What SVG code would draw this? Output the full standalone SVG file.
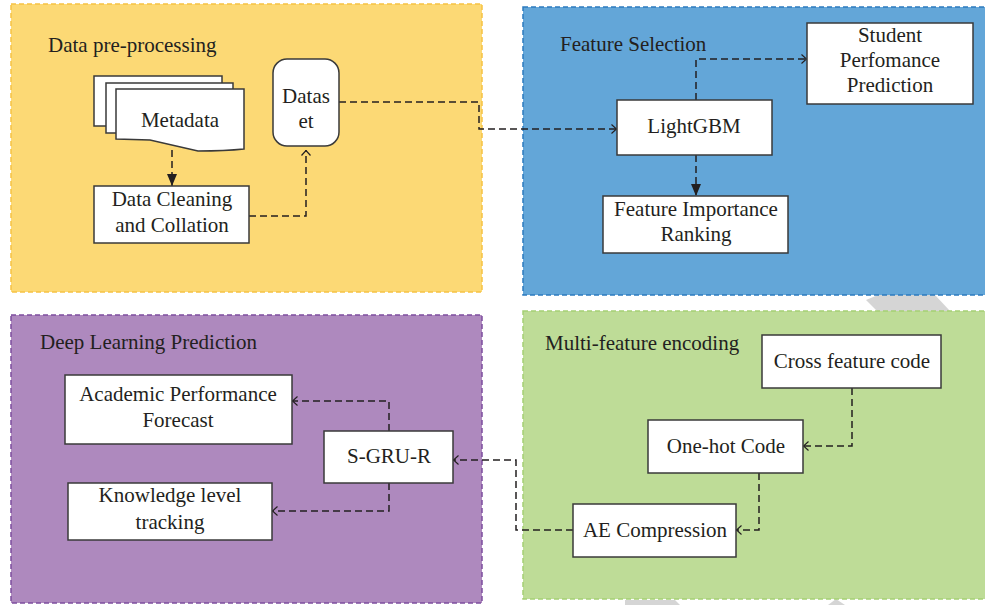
<svg xmlns="http://www.w3.org/2000/svg" width="985" height="605" viewBox="0 0 985 605">
<defs>
<style>
text{font-family:"Liberation Serif","Times New Roman",serif;font-size:21px;fill:#231f20}
.t{text-anchor:middle}
.box{fill:#fff;stroke:#3a3a3a;stroke-width:1.5}
.con{fill:none;stroke:#231f20;stroke-width:1.5;stroke-dasharray:7 4}
.panel{stroke-width:1.5;stroke-dasharray:5 3}
.wm{fill:#d5d5d5}
</style>
<marker id="fill" viewBox="0 0 12 10" refX="12" refY="5" markerWidth="12" markerHeight="10" markerUnits="userSpaceOnUse" orient="auto">
<path d="M0,0 L12,5 L0,10 Z" fill="#231f20"/>
</marker>
<marker id="open" viewBox="0 0 6 10" refX="6" refY="5" markerWidth="6" markerHeight="10" markerUnits="userSpaceOnUse" orient="auto">
<path d="M0.5,0.5 L5.5,5 L0.5,9.5" fill="none" stroke="#231f20" stroke-width="1.2"/>
</marker>
</defs>
<rect width="985" height="605" fill="#fff"/>
<g id="watermark">
<polygon class="wm" points="878,295 935,295 950,311 877,311 866,300"/>
<polygon class="wm" points="625,600 675,600 680,605 625,605"/>
<polygon class="wm" points="828,605 836,599 845,605"/>
</g>
<g id="panel-preprocessing">
<rect class="panel" x="11" y="4" width="471" height="288" fill="#fcd975" stroke="#f6c243"/>
<text x="48" y="52">Data pre-processing</text>
</g>
<g id="panel-feature-selection">
<rect class="panel" x="523" y="7" width="470" height="288" fill="#63a6d8" stroke="#2c7bbf"/>
<text x="560" y="51">Feature Selection</text>
</g>
<g id="panel-deep-learning">
<rect class="panel" x="11" y="315" width="471" height="288" fill="#ae89be" stroke="#7d4e9e"/>
<text x="40" y="349">Deep Learning Prediction</text>
</g>
<g id="panel-multi-feature">
<rect class="panel" x="523" y="311" width="470" height="288" fill="#bedc97" stroke="#a5cf74"/>
<text x="545" y="350">Multi-feature encoding</text>
</g>
<g id="connectors">
<path class="con" d="M172,150 V186" marker-end="url(#fill)"/>
<path class="con" d="M249,216 H306 V150" marker-end="url(#open)"/>
<path class="con" d="M339,102 H479 V129 H617" marker-end="url(#open)"/>
<path class="con" d="M696,100 V59 H807" marker-end="url(#open)"/>
<path class="con" d="M696,155 V196" marker-end="url(#fill)"/>
<path class="con" d="M852,388 V446 H803" marker-end="url(#open)"/>
<path class="con" d="M759,473 V530 H736" marker-end="url(#open)"/>
<path class="con" d="M573,530 H516 V460 H453" marker-end="url(#open)"/>
<path class="con" d="M389,431 V401 H292" marker-end="url(#open)"/>
<path class="con" d="M389,483 V511 H272" marker-end="url(#open)"/>
</g>
<g id="metadata">
<rect class="box" x="94" y="76" width="128" height="50"/>
<rect class="box" x="106" y="83" width="127" height="50"/>
<path class="box" d="M116,89 H244 V149 Q225,151 198,151 Q172,145 150,140 L116,139 Z"/>
<text class="t" x="180" y="127">Metadata</text>
</g>
<g id="data-cleaning">
<rect class="box" x="94" y="186" width="155" height="57"/>
<text class="t" x="172" y="206">Data Cleaning</text>
<text class="t" x="172" y="232">and Collation</text>
</g>
<g id="dataset">
<rect class="box" x="273" y="59" width="66" height="87" rx="14"/>
<text class="t" x="306" y="103">Datas</text>
<text class="t" x="306" y="128">et</text>
</g>
<g id="lightgbm">
<rect class="box" x="617" y="100" width="155" height="55"/>
<text class="t" x="694" y="133">LightGBM</text>
</g>
<g id="student-prediction">
<rect class="box" x="807" y="23" width="166" height="81"/>
<text class="t" x="890" y="42">Student</text>
<text class="t" x="890" y="67">Perfomance</text>
<text class="t" x="890" y="92">Prediction</text>
</g>
<g id="feature-ranking">
<rect class="box" x="603" y="196" width="185" height="57"/>
<text class="t" x="696" y="216">Feature Importance</text>
<text class="t" x="696" y="241">Ranking</text>
</g>
<g id="academic-forecast">
<rect class="box" x="65" y="375" width="227" height="69"/>
<text class="t" x="178" y="401">Academic Performance</text>
<text class="t" x="178" y="427">Forecast</text>
</g>
<g id="sgrur">
<rect class="box" x="324" y="431" width="129" height="52"/>
<text class="t" x="389" y="463">S-GRU-R</text>
</g>
<g id="knowledge-tracking">
<rect class="box" x="68" y="483" width="204" height="57"/>
<text class="t" x="170" y="502">Knowledge level</text>
<text class="t" x="170" y="529">tracking</text>
</g>
<g id="cross-feature">
<rect class="box" x="762" y="335" width="179" height="53"/>
<text class="t" x="852" y="368">Cross feature code</text>
</g>
<g id="one-hot">
<rect class="box" x="648" y="420" width="155" height="53"/>
<text class="t" x="726" y="453">One-hot Code</text>
</g>
<g id="ae-compression">
<rect class="box" x="573" y="504" width="163" height="53"/>
<text class="t" x="655" y="537">AE Compression</text>
</g>
</svg>
